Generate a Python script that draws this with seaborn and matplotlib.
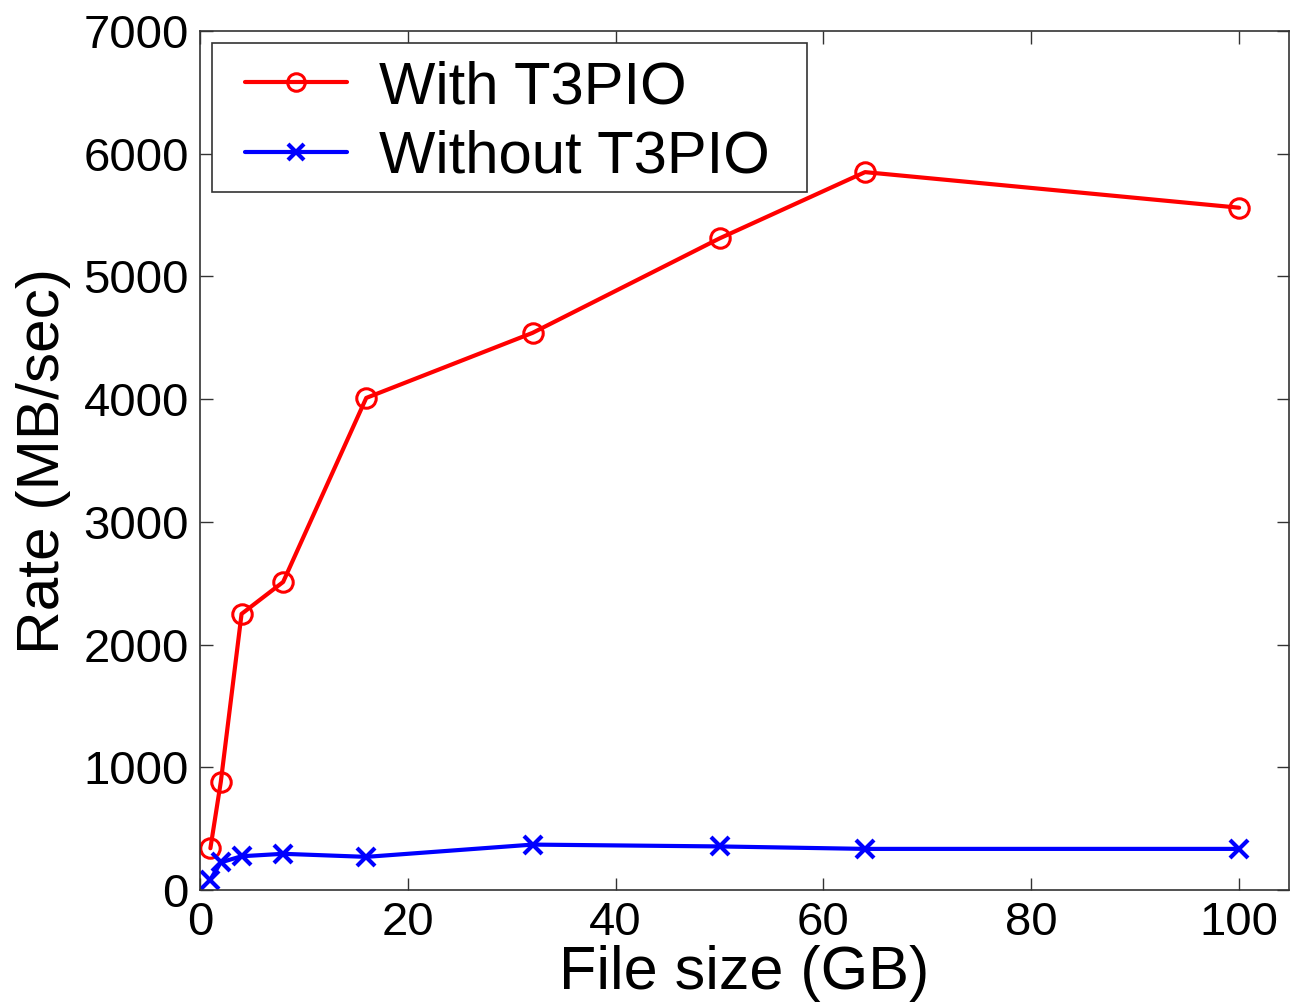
import matplotlib
matplotlib.use("Agg")
import matplotlib.pyplot as plt
import matplotlib.patches as mpatches
import seaborn as sns
import pandas as pd

file_size = [1, 2, 4, 8, 16, 32, 50, 64, 100]
with_t3pio = [340, 880, 2250, 2510, 4010, 4540, 5310, 5850, 5560]
without_t3pio = [85, 225, 275, 295, 270, 370, 355, 335, 335]
x_ticks = [0, 20, 40, 60, 80, 100]
y_ticks = [0, 1000, 2000, 3000, 4000, 5000, 6000, 7000]

sns.set_style("ticks")
plt.rcParams['font.family'] = ['Liberation Sans', 'DejaVu Sans']
plt.rcParams['text.color'] = 'black'
plt.rcParams['axes.labelcolor'] = 'black'
plt.rcParams['xtick.color'] = 'black'
plt.rcParams['ytick.color'] = 'black'

W, H = 1290, 1007
AX_L, AX_R, AX_T, AX_B = 200, 1289, 31, 890
aw, ah = AX_R - AX_L, AX_B - AX_T

fig = plt.figure(figsize=(W / 100, H / 100), dpi=100)
ax = fig.add_axes([AX_L / W, (H - AX_B) / H, aw / W, ah / H])

df1 = pd.DataFrame({"x": file_size, "y": with_t3pio})
df2 = pd.DataFrame({"x": file_size, "y": without_t3pio})

sns.lineplot(data=df1, x="x", y="y", ax=ax, color="#ff0000", linewidth=3,
             marker="o", markersize=14, markerfacecolor="none",
             markeredgecolor="#ff0000", markeredgewidth=2.2, label="With T3PIO")
sns.lineplot(data=df2, x="x", y="y", ax=ax, color="#0000ff", linewidth=3,
             marker="x", markersize=13, markeredgecolor="#0000ff",
             markeredgewidth=3, label="Without T3PIO")

ax.set_xlim(0, 104.8)
ax.set_ylim(0, 7000)
ax.set_xticks(x_ticks)
ax.set_yticks(y_ticks)
ax.tick_params(direction="in", length=9, width=1, top=True, right=True,
               labelsize=34, pad=8, color="#333333", labelcolor="black")
for s in ax.spines.values():
    s.set_visible(True)
    s.set_linewidth(1.2)
    s.set_color("#333333")
ax.set_xlabel("File size (GB)", fontsize=44, labelpad=0, color="black")
ax.set_ylabel("Rate (MB/sec)", fontsize=43.5, labelpad=9, color="black")

# legend frame (MATLAB-style box)
bx0, bx1, by0, by1 = 212, 807, 43, 192
frame = mpatches.Rectangle(((bx0 - AX_L) / aw, 1 - (by1 - AX_T) / ah),
                           (bx1 - bx0) / aw, (by1 - by0) / ah,
                           transform=ax.transAxes, facecolor="white",
                           edgecolor="#333333", linewidth=1.2, zorder=4.5)
ax.add_patch(frame)

leg = ax.legend(loc="upper left",
                bbox_to_anchor=((245 - AX_L) / aw, 1 - (60 - AX_T) / ah),
                fontsize=43, frameon=False, handlelength=1.7,
                handletextpad=0.55, borderpad=0, labelspacing=0.25,
                borderaxespad=0, markerscale=0.9)
leg.set_zorder(6)
for t in leg.get_texts():
    t.set_color("black")

fig.savefig("out.png", dpi=100)
